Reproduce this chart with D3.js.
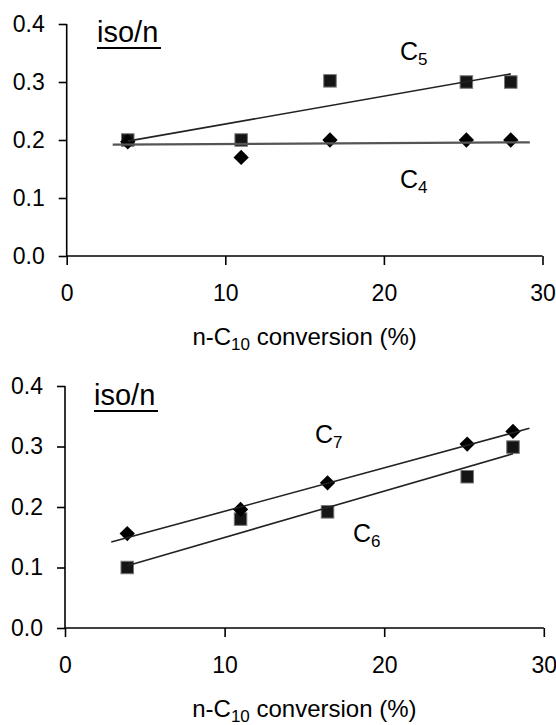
<!DOCTYPE html>
<html>
<head>
<meta charset="utf-8">
<script src="https://cdn.jsdelivr.net/npm/d3@7"></script>
<style>
  body { margin: 0; background: #fff; }
  svg { display: block; font-family: "Liberation Sans", Arial, sans-serif; }
</style>
</head>
<body>
<svg id="plot" width="556" height="725"></svg>
<script>
// shared ticks
const xTicks = [0, 10, 20, 30];
const yTicks = [0, 0.1, 0.2, 0.3, 0.4];

// top panel: C4 / C5
const convTop = [3.85, 11.0, 16.6, 25.2, 28.0];
const c4 = [0.197, 0.17, 0.2, 0.2, 0.2];
const c5 = [0.2, 0.2, 0.302, 0.3, 0.3];
const c4Trend = [[2.9, 0.192], [29.2, 0.196]];
const c5Trend = [[3.85, 0.198], [28.0, 0.314]];

// bottom panel: C6 / C7
const convBot = [3.9, 11.0, 16.45, 25.2, 28.07];
const c6 = [0.1, 0.18, 0.192, 0.25, 0.299];
const c7 = [0.156, 0.196, 0.24, 0.304, 0.325];
const c6Trend = [[3.9, 0.103], [28.07, 0.288]];
const c7Trend = [[2.9, 0.142], [29.1, 0.33]];

const svg = d3.select("#plot");

function drawPanel(p) {
  const x = d3.scaleLinear().domain([0, 30]).range([p.left, p.right]);
  const y = d3.scaleLinear().domain([0, 0.4]).range([p.bottom, p.top]);
  const g = svg.append("g");

  // axes
  const yAxis = g.append("g")
    .attr("transform", `translate(${p.left},0)`)
    .call(d3.axisLeft(y).tickValues(yTicks).tickFormat(d3.format(".1f")).tickSize(8).tickPadding(14));
  const xAxis = g.append("g")
    .attr("transform", `translate(0,${p.bottom})`)
    .call(d3.axisBottom(x).tickValues(xTicks).tickSize(9).tickPadding(20));
  [xAxis, yAxis].forEach((a) => {
    a.select(".domain").attr("stroke", "#000").attr("stroke-width", 1.6);
    a.selectAll(".tick line").attr("stroke", "#000").attr("stroke-width", 1.6);
    a.selectAll(".tick text").attr("fill", "#000").style("font-size", "23px")
      .style("font-family", "Liberation Sans, Arial, sans-serif");
  });
  // plain domain lines, no end stubs
  yAxis.select(".domain").attr("d", `M0,${p.bottom}V${p.top}`);
  xAxis.select(".domain").attr("d", `M${p.left},0H${p.right}`);

  // markers
  const sq = 12.5;
  p.squares.forEach((v, i) => {
    g.append("rect")
      .attr("x", x(p.xs[i]) - sq / 2)
      .attr("y", y(v) - sq / 2)
      .attr("width", sq).attr("height", sq)
      .attr("fill", "#151515").attr("stroke", "#777").attr("stroke-width", 1);
  });
  const dia = d3.symbol().type(d3.symbolDiamond2).size(150);
  p.diamonds.forEach((v, i) => {
    g.append("path")
      .attr("d", dia())
      .attr("transform", `translate(${x(p.xs[i])},${y(v)})`)
      .attr("fill", "#000");
  });

  // trend lines
  const line = d3.line().x((d) => x(d[0])).y((d) => y(d[1]));
  p.trends.forEach((t) => {
    g.append("path").attr("d", line(t.pts))
      .attr("fill", "none").attr("stroke", t.color).attr("stroke-width", t.w);
  });

  // series labels
  p.labels.forEach((l) => {
    const t = g.append("text").attr("x", l.x).attr("y", l.y)
      .style("font-size", "25px").attr("fill", "#000");
    t.append("tspan").text("C");
    t.append("tspan").text(l.sub).attr("dy", 5).style("font-size", "17px");
  });

  // iso/n
  g.append("text").attr("x", p.isoX).attr("y", p.isoY)
    .style("font-size", "29px").attr("fill", "#000").text("iso/n");
  g.append("line")
    .attr("x1", p.isoX).attr("x2", p.isoX + 64)
    .attr("y1", p.isoY + 6).attr("y2", p.isoY + 6)
    .attr("stroke", "#000").attr("stroke-width", 2);

  // x title
  const tt = g.append("text")
    .attr("x", (p.left + p.right) / 2).attr("y", p.bottom + 89)
    .attr("text-anchor", "middle").style("font-size", "24px").attr("fill", "#000");
  tt.append("tspan").text("n-C");
  tt.append("tspan").text("10").attr("dy", 5).style("font-size", "17px");
  tt.append("tspan").text(" conversion (%)").attr("dy", -5);
}

drawPanel({
  left: 66.7, right: 542.5, top: 24, bottom: 256,
  xs: convTop, squares: c5, diamonds: c4,
  trends: [
    { pts: c4Trend, color: "#555", w: 2.2 },
    { pts: c5Trend, color: "#222", w: 1.6 },
  ],
  labels: [
    { x: 400, y: 60, sub: "5" },
    { x: 400, y: 188, sub: "4" },
  ],
  isoX: 97, isoY: 42,
});

drawPanel({
  left: 65, right: 543.8, top: 386, bottom: 628,
  xs: convBot, squares: c6, diamonds: c7,
  trends: [
    { pts: c6Trend, color: "#222", w: 1.6 },
    { pts: c7Trend, color: "#222", w: 1.6 },
  ],
  labels: [
    { x: 315, y: 443, sub: "7" },
    { x: 353, y: 542, sub: "6" },
  ],
  isoX: 94, isoY: 405,
});
</script>
</body>
</html>
